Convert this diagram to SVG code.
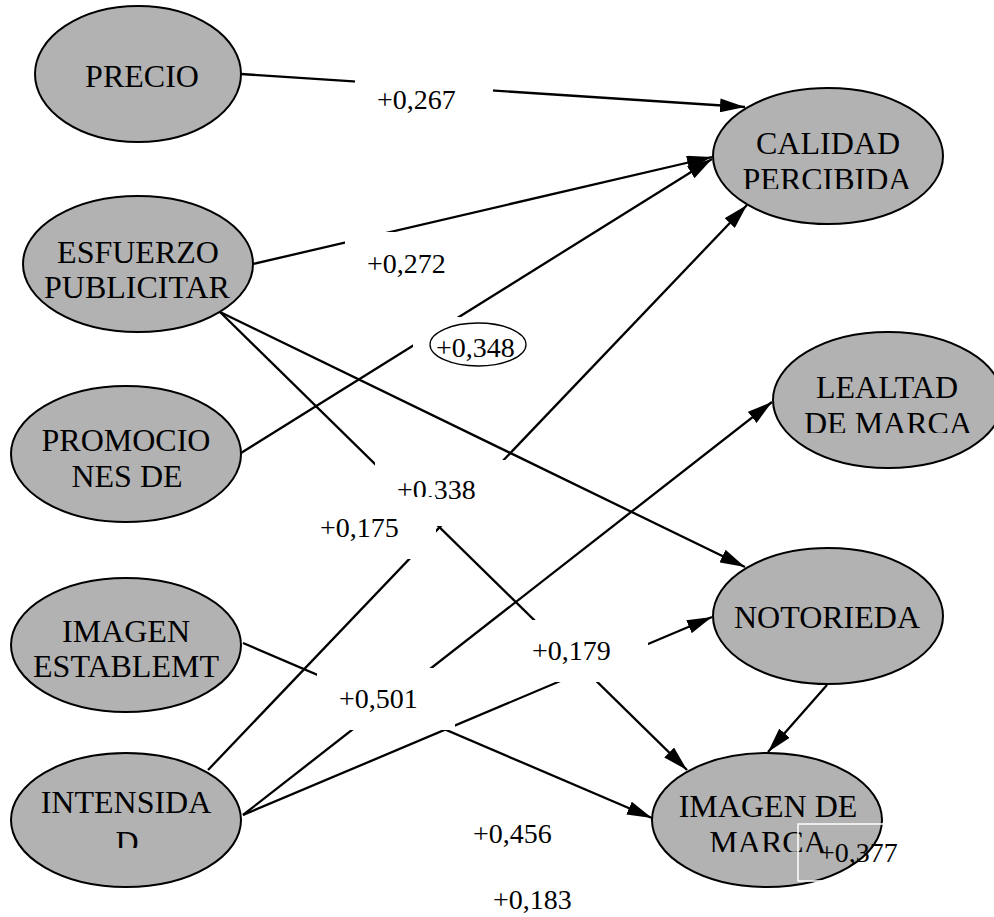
<svg xmlns="http://www.w3.org/2000/svg" width="994" height="917" viewBox="0 0 994 917">
  <defs>
    <style>
      .node ellipse { fill: #b2b2b2; stroke: #000; stroke-width: 2; }
      .node text { font-family: "Liberation Serif", "Times New Roman", serif; font-size: 32px; fill: #000; text-anchor: middle; }
      .edge { stroke: #000; stroke-width: 2.3; fill: none; marker-end: url(#arrow); }
      .lbl rect { fill: #fff; stroke: none; }
      .lbl text { font-family: "Liberation Serif", "Times New Roman", serif; font-size: 28px; fill: #000; }
    </style>
    <marker id="arrow" viewBox="0 0 25 14" markerWidth="25" markerHeight="14" refX="25" refY="7" orient="auto" markerUnits="userSpaceOnUse">
      <path d="M0,0 L25,7 L0,14 Z" fill="#000"/>
    </marker>
    <clipPath id="clip-esfuerzo" clipPathUnits="userSpaceOnUse"><rect x="0" y="190" width="300" height="108"/></clipPath>
    <clipPath id="clip-calidad" clipPathUnits="userSpaceOnUse"><rect x="700" y="80" width="260" height="109"/></clipPath>
    <clipPath id="clip-lealtad" clipPathUnits="userSpaceOnUse"><rect x="760" y="320" width="234" height="113"/></clipPath>
    <clipPath id="clip-intensidad" clipPathUnits="userSpaceOnUse"><rect x="0" y="740" width="260" height="108"/></clipPath>
    <clipPath id="clip-imagenmarca" clipPathUnits="userSpaceOnUse"><rect x="640" y="740" width="260" height="112"/></clipPath>
  </defs>

  <rect width="994" height="917" fill="#fff"/>

  <!-- constructs -->
  <g id="precio" class="node">
    <ellipse cx="138" cy="74" rx="103" ry="68"/>
    <text x="142" y="87">PRECIO</text>
  </g>
  <g id="esfuerzo-publicitario" class="node">
    <ellipse cx="138" cy="264" rx="115" ry="68"/>
    <text clip-path="url(#clip-esfuerzo)"><tspan x="138" y="263">ESFUERZO</tspan><tspan x="137" y="298">PUBLICITAR</tspan></text>
  </g>
  <g id="calidad-percibida" class="node">
    <ellipse cx="828" cy="156" rx="115" ry="68"/>
    <text clip-path="url(#clip-calidad)"><tspan x="828" y="154">CALIDAD</tspan><tspan x="827" y="190">PERCIBIDA</tspan></text>
  </g>
  <g id="promociones" class="node">
    <ellipse cx="126" cy="454" rx="115" ry="68"/>
    <text><tspan x="126" y="451">PROMOCIO</tspan><tspan x="127" y="487">NES DE</tspan></text>
  </g>
  <g id="lealtad-marca" class="node">
    <ellipse cx="888" cy="400" rx="115" ry="68"/>
    <text clip-path="url(#clip-lealtad)"><tspan x="887" y="398">LEALTAD</tspan><tspan x="888" y="434">DE MARCA</tspan></text>
  </g>
  <g id="notoriedad" class="node">
    <ellipse cx="828" cy="616" rx="115" ry="68"/>
    <text x="827" y="628">NOTORIEDA</text>
  </g>
  <g id="imagen-establecimiento" class="node">
    <ellipse cx="126" cy="645" rx="115" ry="67"/>
    <text><tspan x="126" y="642">IMAGEN</tspan><tspan x="126" y="677">ESTABLEMT</tspan></text>
  </g>
  <g id="intensidad" class="node">
    <ellipse cx="126" cy="820" rx="115" ry="67"/>
    <text clip-path="url(#clip-intensidad)"><tspan x="126" y="813">INTENSIDA</tspan><tspan x="127" y="853">D</tspan></text>
  </g>
  <g id="imagen-marca" class="node">
    <ellipse cx="767" cy="820" rx="115" ry="67"/>
    <text clip-path="url(#clip-imagenmarca)"><tspan x="768" y="817">IMAGEN DE</tspan><tspan x="768" y="853">MARCA</tspan></text>
  </g>

  <!-- paths -->
  <g id="connectors">
    <line class="edge" x1="241" y1="74" x2="745" y2="107"/>
    <line class="edge" x1="253" y1="264" x2="712" y2="157"/>
    <line class="edge" x1="241" y1="453" x2="712" y2="159"/>
    <line class="edge" x1="208" y1="770" x2="747" y2="205"/>
    <line class="edge" x1="220" y1="312" x2="745" y2="567"/>
    <line class="edge" x1="220" y1="312" x2="687" y2="770"/>
    <line class="edge" x1="243" y1="815" x2="772" y2="402"/>
    <line class="edge" x1="243" y1="815" x2="712" y2="617"/>
    <line class="edge" x1="243" y1="643" x2="652" y2="818"/>
    <line class="edge" x1="827" y1="685" x2="768" y2="752"/>
  </g>

  <!-- path coefficients -->
  <g id="coefficients">
    <g class="lbl"><rect x="355" y="69" width="138" height="62"/><text x="377" y="109">+0,267</text></g>
    <g class="lbl"><rect x="345" y="232" width="138" height="62"/><text x="367" y="273">+0,272</text></g>
    <g class="lbl"><rect x="413" y="317" width="138" height="62"/><ellipse cx="478" cy="344.5" rx="48" ry="21.5" fill="none" stroke="#000" stroke-width="1.3"/><text x="436" y="357">+0,348</text></g>
    <g class="lbl"><rect x="375" y="460" width="138" height="66"/><text x="397" y="499">+0.338</text></g>
    <g class="lbl"><rect x="298" y="497" width="138" height="62"/><text x="320" y="537">+0,175</text></g>
    <g class="lbl"><rect x="510" y="620" width="138" height="62"/><text x="532" y="660">+0,179</text></g>
    <g class="lbl"><rect x="317" y="668" width="138" height="62"/><text x="339" y="708">+0,501</text></g>
    <g class="lbl"><text x="473" y="843">+0,456</text></g>
    <g class="lbl"><text x="493" y="909">+0,183</text></g>
    <g class="lbl"><rect x="798" y="824" width="138" height="57" style="fill:none;stroke:#fff;stroke-width:1.5"/><text x="819" y="862">+0,377</text></g>
  </g>
</svg>
